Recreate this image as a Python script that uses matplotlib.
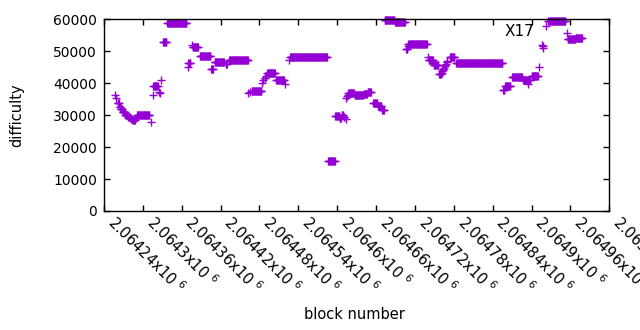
import numpy as np
import matplotlib
matplotlib.use("Agg")
import matplotlib.pyplot as plt

# Runs of constant difficulty: first block, last block, difficulty
run_start = [2064257, 2064258, 2064261, 2064264, 2064266, 2064269, 2064273, 2064277, 2064281, 2064284,
             2064289, 2064291, 2064312, 2064315, 2064316, 2064325, 2064326, 2064328, 2064331, 2064338,
             2064369, 2064370, 2064376, 2064377, 2064388, 2064405, 2064411, 2064428, 2064433, 2064463,
             2064466, 2064468, 2064484, 2064486, 2064488, 2064490, 2064492, 2064506, 2064520, 2064525,
             2064527, 2064586, 2064597, 2064604, 2064607, 2064610, 2064613, 2064614, 2064615, 2064616,
             2064617, 2064627, 2064641, 2064647, 2064656, 2064663, 2064669, 2064673, 2064689, 2064706,
             2064709, 2064710, 2064740, 2064741, 2064749, 2064757, 2064761, 2064762, 2064763, 2064764,
             2064765, 2064766, 2064767, 2064768, 2064769, 2064770, 2064774, 2064784, 2064856, 2064859,
             2064870, 2064887, 2064894, 2064895, 2064900, 2064912, 2064916, 2064917, 2064918, 2064922,
             2064926, 2064954, 2064956, 2064968]
run_end = [2064257, 2064258, 2064263, 2064265, 2064268, 2064272, 2064276, 2064280, 2064283, 2064288,
           2064289, 2064310, 2064312, 2064315, 2064323, 2064325, 2064326, 2064328, 2064336, 2064367,
           2064369, 2064373, 2064376, 2064385, 2064404, 2064408, 2064425, 2064430, 2064462, 2064463,
           2064466, 2064483, 2064484, 2064486, 2064489, 2064490, 2064504, 2064518, 2064520, 2064525,
           2064584, 2064596, 2064603, 2064606, 2064609, 2064611, 2064613, 2064614, 2064615, 2064616,
           2064626, 2064640, 2064646, 2064652, 2064662, 2064668, 2064672, 2064688, 2064704, 2064708,
           2064709, 2064738, 2064740, 2064748, 2064756, 2064760, 2064761, 2064762, 2064763, 2064764,
           2064765, 2064766, 2064767, 2064768, 2064769, 2064770, 2064781, 2064855, 2064858, 2064867,
           2064885, 2064893, 2064894, 2064898, 2064910, 2064912, 2064916, 2064917, 2064918, 2064922,
           2064952, 2064954, 2064967, 2064978]
run_difficulty = [36250, 35500, 33750, 32650, 31800, 30950, 30000, 29400, 28900, 28450,
                  29000, 30200, 27900, 36450, 39050, 37300, 36800, 40850, 53050, 58800,
                  45100, 46250, 51900, 51250, 48600, 44550, 46700, 45950, 47400, 36800,
                  37200, 37700, 40100, 40900, 41500, 42200, 43200, 40850, 39900, 47200,
                  48050, 15500, 29700, 29200, 30200, 29300, 28900, 35400, 35900, 36400,
                  37000, 36300, 36600, 37300, 33900, 33000, 31600, 59700, 59150, 50800,
                  51700, 52400, 48100, 47200, 45600, 43000, 43300, 43700, 44100, 44500,
                  44900, 45300, 45700, 46100, 46500, 47000, 48350, 46400, 38000, 39000,
                  41800, 40850, 39700, 40850, 42400, 45100, 52100, 51600, 51100, 57800,
                  59600, 55850, 53700, 54000]

x_ticks = [2064240 + 60 * i for i in range(14)]
y_ticks = [0, 10000, 20000, 30000, 40000, 50000, 60000]
title_text = "X17"

blocks = np.concatenate([np.arange(s, e + 1) for s, e in zip(run_start, run_end)])
diffs = np.concatenate([np.full(e - s + 1, d) for s, e, d in zip(run_start, run_end, run_difficulty)])

plt.rcParams['font.family'] = ['DejaVu Sans']
plt.rcParams['mathtext.fontset'] = 'dejavusans'

fig = plt.figure(figsize=(6.4, 3.3), dpi=100)
ax = fig.add_axes([104 / 640, 1 - 211 / 330, 505.3 / 640, 191.7 / 330])

ax.plot(blocks, diffs, linestyle='none', marker='+', markersize=6, markeredgewidth=1.0,
        color='#9400D3', clip_on=False)

ax.set_xlim(x_ticks[0], x_ticks[-1])
ax.set_ylim(0, 60000)
ax.set_xticks(x_ticks)
labels = []
for v in x_ticks:
    s = f"{v / 1e6:.5f}".rstrip('0')
    labels.append(s + "x10 $^{6}$")
ax.set_xticklabels(labels, rotation=-45, ha='left', va='top', fontsize=10.5)
ax.set_yticks(y_ticks)
ax.set_yticklabels([str(v) for v in y_ticks], fontsize=10)
ax.tick_params(direction='in', length=4, width=1, top=True, right=True)
ax.tick_params(axis='x', pad=1)
ax.tick_params(axis='y', pad=5)
for sp in ax.spines.values():
    sp.set_linewidth(1.0)

ax.set_xlabel("block number", fontsize=10.5)
ax.set_ylabel("difficulty", fontsize=10.5)
ax.xaxis.set_label_coords((354 - 104) / 505.3, (211 - 307) / 191.7)
ax.yaxis.set_label_coords((24 - 104) / 505.3, (211 - 115) / 191.7)
fig.text(519 / 640, 1 - 31.7 / 330, title_text, ha='center', va='center', fontsize=11)

fig.savefig("out.png", dpi=100)
